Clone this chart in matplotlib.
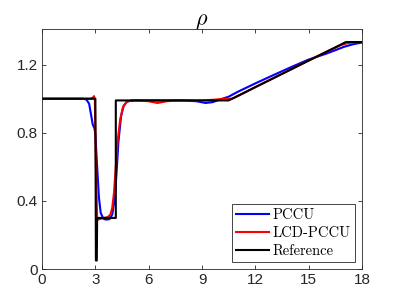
import numpy as np
import matplotlib
matplotlib.use('Agg')
import matplotlib.pyplot as plt

# curves
x_pccu = [0, 2.3, 2.5, 2.65, 2.75, 2.85, 2.95, 3.0, 3.1, 3.2, 3.3, 3.45, 3.6, 3.8, 3.95,
          4.1, 4.2, 4.3, 4.45, 4.6, 4.8, 5.2, 6, 7, 8, 8.7, 9.2, 9.6, 10, 10.5, 11, 12,
          13, 14, 15, 16, 17, 17.5, 18]
y_pccu = [1, 1.0, 0.995, 0.97, 0.91, 0.85, 0.825, 0.79, 0.6, 0.42, 0.33, 0.295, 0.29, 0.293, 0.32,
          0.42, 0.58, 0.75, 0.9, 0.96, 0.985, 0.99, 0.99, 0.99, 0.99, 0.985, 0.975, 0.98, 0.995, 1.012, 1.04, 1.09,
          1.138, 1.185, 1.23, 1.265, 1.305, 1.32, 1.33]

x_lcd = [0, 2.7, 2.85, 2.92, 2.97, 3.0, 3.05, 3.1, 3.15, 3.3, 3.5, 3.7, 3.85, 3.95, 4.05,
         4.15, 4.25, 4.4, 4.55, 4.75, 5.0, 5.5, 6.0, 6.5, 7.0, 7.5, 9, 9.8, 10.2, 10.5,
         10.7, 11, 12, 13, 14, 15, 16, 16.8, 17.2, 17.6, 18]
y_lcd = [1, 1.0, 1.005, 1.015, 1.0, 0.8, 0.5, 0.3, 0.29, 0.295, 0.3, 0.305, 0.32, 0.36, 0.45,
         0.6, 0.75, 0.88, 0.95, 0.98, 0.99, 0.99, 0.985, 0.975, 0.985, 0.99, 0.99, 0.995, 1.0, 1.0,
         1.0, 1.015, 1.068, 1.12, 1.172, 1.224, 1.275, 1.314, 1.327, 1.332, 1.333]

x_ref = [0, 3.0, 3.03, 3.08, 3.1, 4.15, 4.15, 10.5, 17.1, 18]
y_ref = [1, 1.0, 0.05, 0.05, 0.3, 0.3, 0.99, 0.99, 1.333, 1.333]

plt.rcParams['font.family'] = 'Liberation Sans'
plt.rcParams['mathtext.fontset'] = 'cm'

fig = plt.figure(figsize=(3.93, 2.99), dpi=100)
ax = fig.add_axes([0.107, 0.1003, 0.814, 0.803])

ax.plot(x_pccu, y_pccu, color='#0000ff', lw=1.5, label='PCCU')
ax.plot(x_lcd, y_lcd, color='#ff0000', lw=1.5, label='LCD-PCCU')
ax.plot(x_ref, y_ref, color='black', lw=1.5, label='Reference')

ax.set_xlim(0, 18)
ax.set_ylim(0, 1.41)
ax.set_xticks([0, 3, 6, 9, 12, 15, 18])
ax.set_yticks([0, 0.4, 0.8, 1.2])
ax.set_yticklabels(['0', '0.4', '0.8', '1.2'])
ax.tick_params(direction='in', length=3, width=0.6, color='#262626',
               labelsize=11, labelcolor='#262626', top=True, right=True, pad=3)
for s in ax.spines.values():
    s.set_color('#262626')
    s.set_linewidth(0.6)

ax.set_title(r'$\rho$', fontsize=16, pad=3)

leg = ax.legend(loc='lower right', prop={'family': 'cmr10', 'size': 10.5},
                fancybox=False, framealpha=1, edgecolor='#262626',
                handlelength=2.2, handletextpad=0.3, labelspacing=0.3,
                borderpad=0.3, borderaxespad=0.45)
leg.get_frame().set_linewidth(0.6)

fig.savefig('out.png', dpi=100)
